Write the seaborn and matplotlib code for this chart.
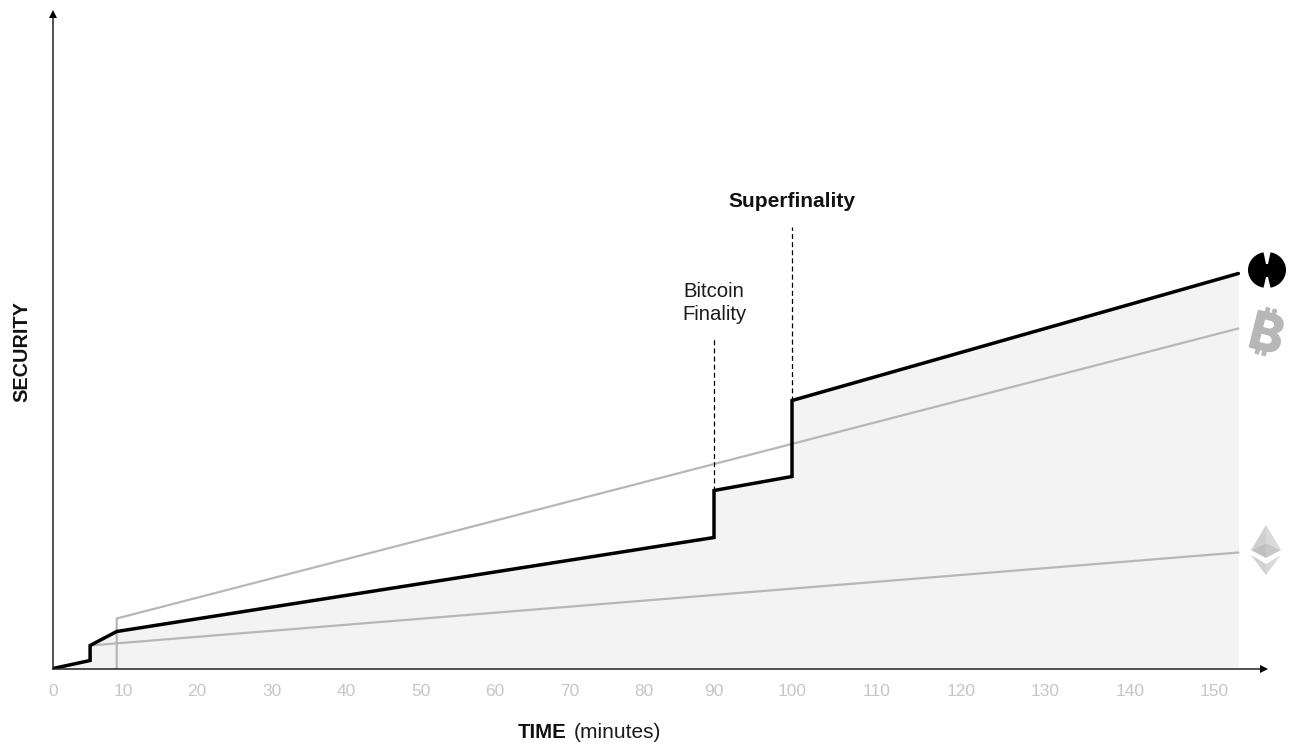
import numpy as np
import pandas as pd
import matplotlib
matplotlib.use("Agg")
import matplotlib.pyplot as plt
import matplotlib.patheffects as pe
from matplotlib.patches import Ellipse, Polygon
from matplotlib.transforms import Affine2D
import seaborn as sns

# Chart data
tick_minutes = [0, 10, 20, 30, 40, 50, 60, 70, 80, 90, 100, 110, 120, 130, 140, 150]
tick_labels = [str(t) for t in tick_minutes]
axis_end_minutes = 155.95

super_minutes = [0, 5.3, 5.3, 9.1, 90, 90, 100, 100, 152.9]
super_security = [0, 8, 23, 37, 131, 178, 192, 268, 395]
btc_minutes = [9.1, 9.1, 152.9]
btc_security = [0, 50, 340]
eth_minutes = [5.3, 152.9]
eth_security = [23, 116]

# The reference's time axis is hand-spaced: pixel place of each tick label
tick_pixels = [53, 123, 197, 272, 346, 421, 495, 570, 644, 714, 792,
               877, 961, 1045, 1130, 1214]
scale_minutes = tick_minutes + [axis_end_minutes]
scale_pixels = tick_pixels + [1264]

W, H = 1291, 744
sns.set_theme(style="white")
plt.rcParams["font.family"] = ["Liberation Sans", "DejaVu Sans"]

fig = plt.figure(figsize=(W / 100, H / 100), dpi=100)
ax = fig.add_axes([53 / W, 1 - 668.5 / H, (1264 - 53) / W, (668.5 - 14) / H])
ax.set_facecolor("none")

ax.set_xscale("function", functions=(
    lambda v: np.interp(v, scale_minutes, scale_pixels),
    lambda p: np.interp(p, scale_pixels, scale_minutes),
))
ax.set_xlim(0, axis_end_minutes)
ax.set_ylim(0, 654.5)

GREY = "#b7b7b7"
ax.fill_between(super_minutes, super_security, 0, color="#f3f3f3", lw=0, zorder=1)

df_btc = pd.DataFrame({"t": btc_minutes, "s": btc_security})
df_eth = pd.DataFrame({"t": eth_minutes, "s": eth_security})
df_sup = pd.DataFrame({"t": super_minutes, "s": super_security})
sns.lineplot(data=df_btc, x="t", y="s", ax=ax, color=GREY, lw=1.6, sort=False,
             estimator=None, zorder=2)
sns.lineplot(data=df_eth, x="t", y="s", ax=ax, color=GREY, lw=1.6, sort=False,
             estimator=None, zorder=2)
sns.lineplot(data=df_sup, x="t", y="s", ax=ax, color="black", lw=2.5, sort=False,
             estimator=None, zorder=4, solid_joinstyle="miter")

ax.plot([90, 90], [178, 331], color="black", lw=0.9, ls=(0, (4, 2.5)), zorder=3)
ax.plot([100, 100], [268, 442], color="black", lw=0.9, ls=(0, (4, 2.5)), zorder=3)

ax.text(90, 365.5, "Bitcoin\nFinality", ha="center", va="center", fontsize=14.6,
        color="#1a1a1a", linespacing=1.32)
ax.text(100, 467, "Superfinality", ha="center", va="center", fontsize=15,
        fontweight="bold", color="#111111")

# Axes
for side in ("top", "right"):
    ax.spines[side].set_visible(False)
for side in ("left", "bottom"):
    ax.spines[side].set_linewidth(1.1)
    ax.spines[side].set_color("#222222")
    ax.spines[side].set_zorder(5)
ax.plot(1, 0, marker=">", color="black", ms=5.5, mew=0, transform=ax.transAxes,
        clip_on=False, zorder=6)
ax.plot(0, 1, marker="^", color="black", ms=5.5, mew=0, transform=ax.transAxes,
        clip_on=False, zorder=6)

ax.set_xticks(tick_minutes, tick_labels)
ax.minorticks_off()
ax.set_yticks([])
ax.tick_params(axis="x", length=0, pad=11.5, labelsize=12.5, labelcolor="#c6c6c6")
ax.set_xlabel("")
ax.set_ylabel("")

# Helper for decoration placed in reference pixels (y downwards)
px = Affine2D().scale(1 / W, -1 / H).translate(0, 1) + fig.transFigure

fig.text(567, 732, "TIME", transform=px, ha="right", va="center", fontsize=14.7,
         fontweight="bold", color="#111111")
fig.text(574, 732, "(minutes)", transform=px, ha="left", va="center", fontsize=15,
         color="#1a1a1a")
fig.text(22, 352, "SECURITY", transform=px, ha="center", va="center", rotation=90,
         fontsize=14.3, fontweight="bold", color="#111111")

# Black logo
fig.add_artist(Ellipse((1267, 270), 38, 36, transform=px, color="black", lw=0))
fig.add_artist(Polygon([(1263, 250), (1271, 250), (1268, 264), (1266, 264)],
                       transform=px, color="white", lw=0))
fig.add_artist(Polygon([(1263, 290), (1271, 290), (1268, 277), (1266, 277)],
                       transform=px, color="white", lw=0))

# Bitcoin logo
btc_logo = fig.text(1266, 337, "\u20bf", transform=px, ha="center", va="center", rotation=-14,
                    fontsize=37, fontweight="bold", color=GREY,
                    family=["Inter", "Noto Sans", "Roboto", "Open Sans", "Lato", "Liberation Sans"])
btc_logo.set_path_effects([pe.withStroke(linewidth=1.2, foreground=GREY)])

# Ethereum logo
for pts, col in [
    ([(1266, 525), (1251, 550), (1266, 543)], "#d0d0d0"),
    ([(1266, 525), (1281, 550), (1266, 543)], "#dadada"),
    ([(1251, 550), (1266, 558), (1266, 543)], "#c0c0c0"),
    ([(1281, 550), (1266, 558), (1266, 543)], "#c8c8c8"),
    ([(1251, 555), (1266, 564), (1266, 575)], "#d0d0d0"),
    ([(1281, 555), (1266, 564), (1266, 575)], "#dadada"),
]:
    fig.add_artist(Polygon(pts, transform=px, color=col, lw=0))

fig.savefig("out.png", dpi=100, facecolor="white")
